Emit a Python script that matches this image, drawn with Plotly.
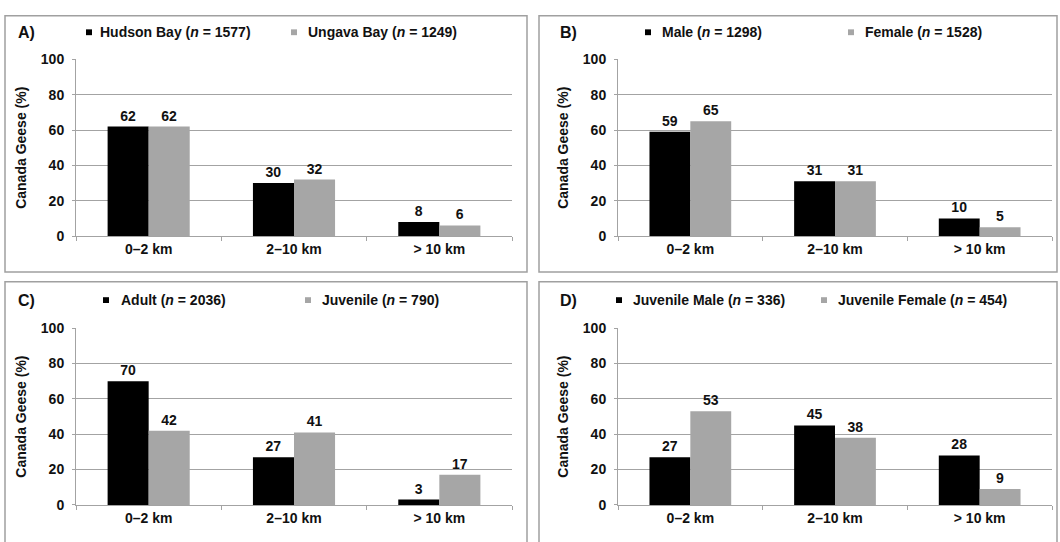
import plotly.graph_objects as go

W, H = 1060, 542

categories = ["0–2 km", "2–10 km", "> 10 km"]

panel_letters = ["A)", "B)", "C)", "D)"]
series1_names = ["Hudson Bay", "Male", "Adult", "Juvenile Male"]
series1_n = [1577, 1298, 2036, 336]
series2_names = ["Ungava Bay", "Female", "Juvenile", "Juvenile Female"]
series2_n = [1249, 1528, 790, 454]

series1_values = [
    [62, 30, 8],
    [59, 31, 10],
    [70, 27, 3],
    [27, 45, 28],
]
series2_values = [
    [62, 32, 6],
    [65, 31, 5],
    [42, 41, 17],
    [53, 38, 9],
]

y_ticks = [0, 20, 40, 60, 80, 100]
y_title = "Canada Geese (%)"

color1 = "#000000"
color2 = "#a6a6a6"
grid_col = "#a3a3a3"
FONT = "Liberation Sans, Arial, sans-serif"


def px(x):
    return x / W


def py(y):
    return 1 - y / H


# plot areas in pixels: (left, right, top, bottom)
areas = [
    (76, 512, 53, 235),
    (618, 1052, 53, 235),
    (76, 512, 330, 512),
    (618, 1052, 330, 512),
]
borders = [
    (5, 527, 8, 272),
    (539, 1057, 8, 272),
    (5, 527, 282, 600),
    (539, 1057, 282, 600),
]
legend_pos = [
    # (letter_x, y, marker1_x, text1_x, marker2_x, text2_x)
    (16, 25, 89, 98, 294, 306),
    (558, 25, 648, 660, 851, 863),
    (16, 301, 106, 119, 308, 320),
    (558, 301, 619, 631, 824, 836),
]

fig = go.Figure()
shapes = []
annotations = []

for i in range(4):
    l, r, t, b = areas[i]
    xa = "x" if i == 0 else f"x{i+1}"
    ya = "y" if i == 0 else f"y{i+1}"
    fig.add_trace(go.Bar(
        x=categories, y=series1_values[i], xaxis=xa, yaxis=ya,
        marker=dict(color=color1, line=dict(width=0)),
        text=[str(v) for v in series1_values[i]], textposition="outside",
        textfont=dict(family=FONT, size=14, color="#111", weight="bold"),
        cliponaxis=False, showlegend=False, hoverinfo="skip",
    ))
    fig.add_trace(go.Bar(
        x=categories, y=series2_values[i], xaxis=xa, yaxis=ya,
        marker=dict(color=color2, line=dict(width=0)),
        text=[str(v) for v in series2_values[i]], textposition="outside",
        textfont=dict(family=FONT, size=14, color="#111", weight="bold"),
        cliponaxis=False, showlegend=False, hoverinfo="skip",
    ))
    key = "" if i == 0 else str(i + 1)
    fig.layout["xaxis" + key] = dict(
        domain=[px(l), px(r)], anchor=ya, type="category",
        tickson="boundaries", ticks="outside", ticklen=4, tickcolor=grid_col,
        showline=True, linecolor=grid_col, linewidth=1, showgrid=False,
        tickfont=dict(family=FONT, size=14, color="#111", weight="bold"),
        fixedrange=True,
    )
    fig.layout["yaxis" + key] = dict(
        domain=[py(b), py(t)], anchor=xa, range=[0, 100],
        tickvals=y_ticks, ticks="outside", ticklen=3, tickcolor=grid_col,
        showline=True, linecolor=grid_col, linewidth=1,
        showgrid=True, gridcolor=grid_col, gridwidth=1, zeroline=False,
        ticklabelstandoff=5,
        tickfont=dict(family=FONT, size=14, color="#111", weight="bold"),
        title=dict(text=y_title, standoff=10,
                   font=dict(family=FONT, size=14, color="#111", weight="bold")),
        fixedrange=True,
    )
    # panel border
    bx0, bx1, by0, by1 = borders[i]
    shapes.append(dict(type="rect", xref="paper", yref="paper",
                       x0=px(bx0), x1=px(bx1), y0=py(by1), y1=py(by0),
                       line=dict(color="#a0a0a0", width=1.5)))
    # legend
    lx, ly, m1, t1, m2, t2 = legend_pos[i]
    annotations.append(dict(xref="paper", yref="paper", x=px(lx), y=py(ly),
                            xanchor="left", yanchor="middle", showarrow=False,
                            text="<b>" + panel_letters[i] + "</b>",
                            font=dict(family=FONT, size=16, color="#111")))
    for mx, col in ((m1, color1), (m2, color2)):
        shapes.append(dict(type="rect", xref="paper", yref="paper",
                           x0=px(mx - 3), x1=px(mx + 3), y0=py(ly + 3), y1=py(ly - 3),
                           fillcolor=col, line=dict(width=0)))
    annotations.append(dict(xref="paper", yref="paper", x=px(t1), y=py(ly),
                            xanchor="left", yanchor="middle", showarrow=False,
                            text=f"<b>{series1_names[i]} (<i>n</i> = {series1_n[i]})</b>",
                            font=dict(family=FONT, size=14, color="#111")))
    annotations.append(dict(xref="paper", yref="paper", x=px(t2), y=py(ly),
                            xanchor="left", yanchor="middle", showarrow=False,
                            text=f"<b>{series2_names[i]} (<i>n</i> = {series2_n[i]})</b>",
                            font=dict(family=FONT, size=14, color="#111")))

fig.update_layout(
    width=W, height=H, margin=dict(l=0, r=0, t=0, b=0),
    paper_bgcolor="white", plot_bgcolor="white",
    barmode="group", bargap=0.435, bargroupgap=0,
    shapes=shapes, annotations=annotations,
)

fig.write_html("out.html", config={"displayModeBar": False},
               post_script="document.body.style.margin='0';")
